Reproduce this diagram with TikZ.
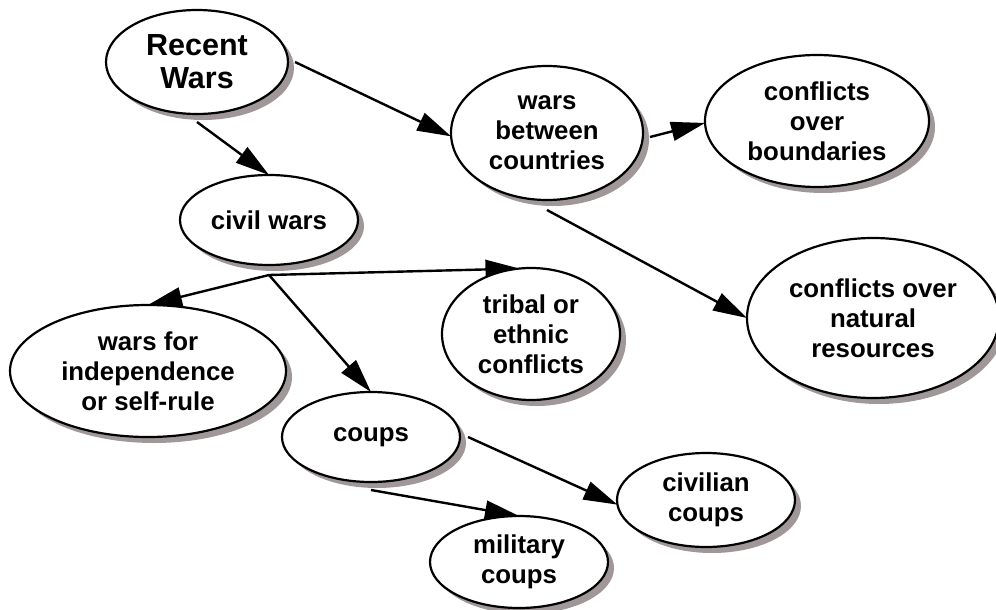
\documentclass[tikz,border=0pt]{standalone}
\usepackage{fontspec}
\setmainfont{Liberation Sans}
\usetikzlibrary{shapes.geometric,shadows,arrows.meta,backgrounds}
\definecolor{shadowgrey}{RGB}{160,152,152}
\tikzset{
  concept/.style={ellipse, draw=black, line width=2.2pt, fill=white,
    inner sep=0pt, outer sep=0pt, align=center,
    font=\bfseries\fontsize{25.8}{30}\selectfont,
    drop shadow={shadow xshift=6pt, shadow yshift=-6pt, fill=shadowgrey, opacity=1}},
  link/.style={line width=2.4pt, -{Triangle[length=34pt,width=19pt]}},
}
\begin{document}
\begin{tikzpicture}[x=1pt,y=-1pt]
\useasboundingbox (0,0) rectangle (996,610);

% concepts
\node[concept, minimum width=182pt, minimum height=104pt,
      font=\bfseries\fontsize{30.5}{33}\selectfont] (rw) at (197,62) {Recent\\Wars};
\node[concept, minimum width=192pt, minimum height=134pt] (wb) at (547,133) {wars\\between\\countries};
\node[concept, minimum width=224pt, minimum height=132pt] (cob) at (817,121) {conflicts\\over\\boundaries};
\node[concept, minimum width=178pt, minimum height=90pt] (cw) at (269,220) {civil wars};
\node[concept, minimum width=178pt, minimum height=132pt] (tri) at (531,334) {tribal or\\ethnic\\conflicts};
\node[concept, minimum width=252pt, minimum height=160pt] (nr) at (873,318) {conflicts over\\natural\\resources};
\node[concept, minimum width=276pt, minimum height=132pt] (wi) at (148,371) {wars for\\independence\\or self-rule};
\node[concept, minimum width=178pt, minimum height=90pt] (co) at (371,437) {coups};
\node[concept, minimum width=178pt, minimum height=92pt] (mil) at (519,562) {military\\coups};
\node[concept, minimum width=178pt, minimum height=94pt] (civ) at (706,500) {civilian\\coups};

% links, kept behind the concepts
\begin{scope}[on background layer]
  \coordinate (hub) at ([yshift=-10pt]cw.south);
  \draw[link] ([xshift=7pt]rw.east) -- (wb.182);
  \draw[link] ([yshift=-8pt]rw.south) -- (cw.north);
  \draw[link] ([xshift=7pt,yshift=-4pt]wb.east) -- (cob.181);
  \draw[link] ([yshift=-10pt]wb.south) -- (nr.west);
  \draw[link] (hub) -- (wi.north);
  \draw[link] (hub) -- (tri.100);
  \draw[link] (hub) -- (co.north);
  \draw[link] ([xshift=8pt]co.east) -- (civ.183);
  \draw[link] ([yshift=-8pt]co.south) -- (mil.north);
\end{scope}
\end{tikzpicture}
\end{document}
